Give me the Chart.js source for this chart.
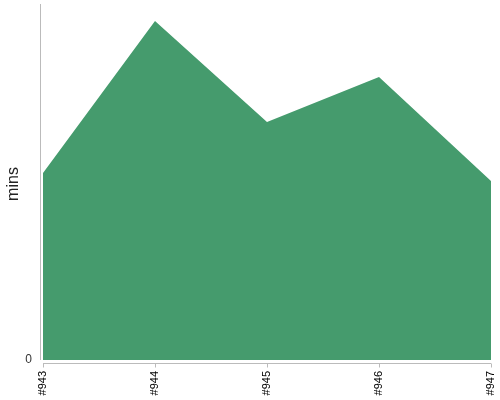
<!DOCTYPE html>
<html>
<head>
<meta charset="utf-8">
<script src="https://cdn.jsdelivr.net/npm/chart.js@4/dist/chart.umd.min.js"></script>
<style>
html,body{margin:0;padding:0;background:#fff;}
#wrap{width:500px;height:400px;}
</style>
</head>
<body>
<div id="wrap"><canvas id="c" width="500" height="400"></canvas></div>
<script>
// Data
const categories = ['#943', '#944', '#945', '#946', '#947'];
const minsValues = [187, 339, 238, 283, 179];
const yTickValues = [0];

const points = categories.map((c, i) => ({ x: i, y: minsValues[i] }));

const axisLines = {
  id: 'axisLines',
  afterDatasetsDraw(chart) {
    const { ctx, chartArea, scales } = chart;
    const xs = scales.x, ys = scales.y;
    ctx.save();
    ctx.strokeStyle = '#bbbbbb';
    ctx.lineWidth = 1;
    // y axis line
    const yl = Math.round(chartArea.left) + 0.5;
    ctx.beginPath();
    ctx.moveTo(yl, chartArea.top);
    ctx.lineTo(yl, ys.getPixelForValue(0));
    ctx.stroke();
    // x axis line + ticks
    const xb = Math.round(chartArea.bottom) - 0.5;
    const x0 = xs.getPixelForValue(0);
    const x1 = xs.getPixelForValue(categories.length - 1);
    ctx.beginPath();
    ctx.moveTo(x0, xb);
    ctx.lineTo(x1, xb);
    categories.forEach((c, i) => {
      const px = Math.round(xs.getPixelForValue(i)) + 0.5;
      ctx.moveTo(px, xb);
      ctx.lineTo(px, xb + 4);
    });
    ctx.stroke();
    ctx.restore();
  }
};

new Chart(document.getElementById('c'), {
  type: 'line',
  data: {
    datasets: [{
      label: 'mins',
      data: points,
      fill: 'origin',
      backgroundColor: 'rgb(69,155,109)',
      borderWidth: 0,
      borderColor: 'rgba(0,0,0,0)',
      pointRadius: 0,
      tension: 0
    }]
  },
  options: {
    responsive: false,
    animation: false,
    layout: { padding: { left: 4, right: 9, top: 4, bottom: 0 } },
    plugins: { legend: { display: false }, tooltip: { enabled: false } },
    scales: {
      x: {
        type: 'linear',
        min: -3 / 112,
        max: categories.length - 1,
        afterBuildTicks(scale) {
          scale.ticks = categories.map((c, i) => ({ value: i }));
        },
        afterFit(scale) {
          scale.height = 36;
          scale.paddingLeft = 0;
          scale.paddingRight = 0;
        },
        grid: { display: false, drawTicks: false },
        border: { display: false },
        ticks: {
          autoSkip: false,
          minRotation: 90,
          maxRotation: 90,
          padding: 7,
          color: '#000',
          font: { family: 'Liberation Sans, Arial, sans-serif', size: 11 },
          callback: (v) => categories[v]
        }
      },
      y: {
        min: -4,
        max: 356,
        afterBuildTicks(scale) {
          scale.ticks = yTickValues.map(v => ({ value: v }));
        },
        afterFit(scale) {
          scale.width = 36;
          scale.paddingTop = 0;
          scale.paddingBottom = 0;
        },
        grid: { display: false, drawTicks: false },
        border: { display: false },
        ticks: {
          padding: 8,
          color: '#333',
          font: { family: 'Liberation Sans, Arial, sans-serif', size: 12 }
        },
        title: {
          display: true,
          text: 'mins',
          color: '#222',
          padding: 0,
          font: { family: 'Liberation Sans, Arial, sans-serif', size: 16 }
        }
      }
    }
  },
  plugins: [axisLines]
});
</script>
</body>
</html>
